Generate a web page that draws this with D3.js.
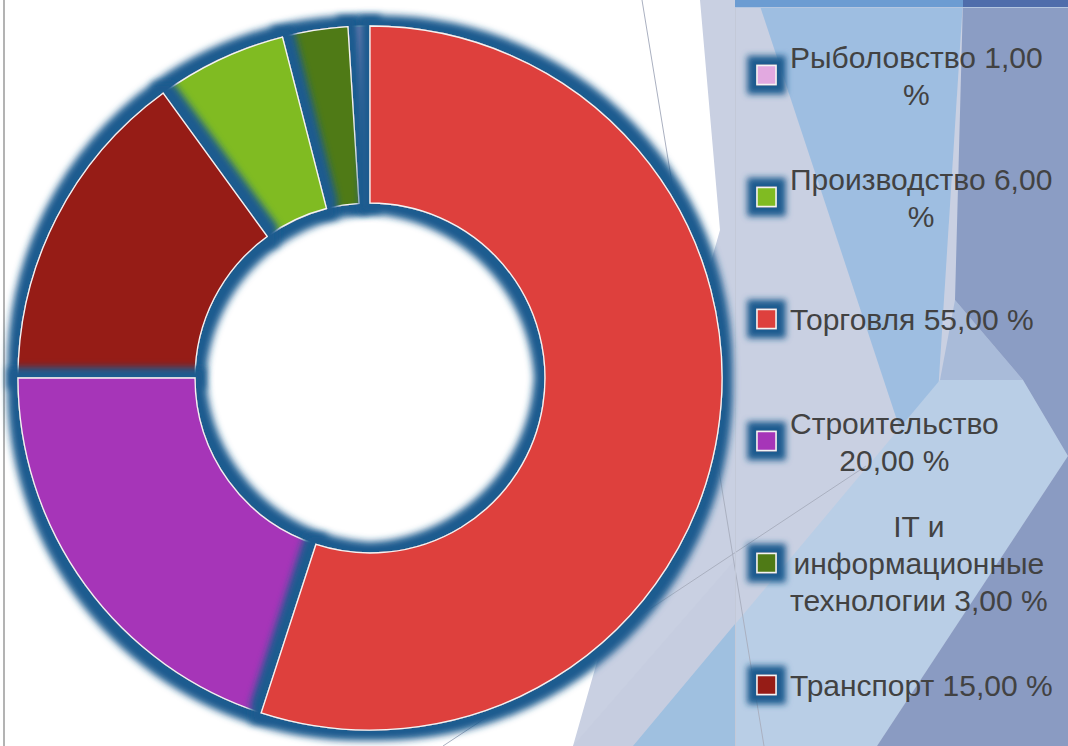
<!DOCTYPE html>
<html>
<head>
<meta charset="utf-8">
<script src="https://cdn.jsdelivr.net/npm/d3@7"></script>
<style>
  html, body { margin: 0; padding: 0; background: #fff; }
  svg { display: block; }
</style>
</head>
<body>
<svg id="chart" width="1068" height="746"></svg>
<script>
// data, legend order as in the reference
const categories = ["Рыболовство", "Производство", "Торговля", "Строительство", "IT и информационные технологии", "Транспорт"];
const shares = [1, 6, 55, 20, 3, 15];
const colors = ["#e2a9e0", "#80bb23", "#de3f3c", "#a634b8", "#4f7a15", "#961b19"];

const W = 1068, H = 746;
const svg = d3.select("#chart");
const defs = svg.append("defs");

// dark blue outer glow like the office "glow" effect
function glowFilter(id, units, region, r, sd) {
  const f = defs.append("filter").attr("id", id).attr("filterUnits", units)
    .attr("x", region[0]).attr("y", region[1]).attr("width", region[2]).attr("height", region[3]);
  f.append("feMorphology").attr("in", "SourceAlpha").attr("operator", "dilate").attr("radius", r).attr("result", "d");
  f.append("feGaussianBlur").attr("in", "d").attr("stdDeviation", sd).attr("result", "b");
  f.append("feFlood").attr("flood-color", "#1c5b8f").attr("result", "c");
  f.append("feComposite").attr("in", "c").attr("in2", "b").attr("operator", "in").attr("result", "g");
  const m = f.append("feMerge");
  m.append("feMergeNode").attr("in", "g");
  m.append("feMergeNode").attr("in", "SourceGraphic");
}
glowFilter("glowPie", "userSpaceOnUse", [-400, -400, 800, 800], 10, 3.8);
glowFilter("glowKey", "objectBoundingBox", ["-150%", "-150%", "400%", "400%"], 9, 3.4);

// ---- slide background (theme facets) ----
const bg = svg.append("g");
bg.append("rect").attr("width", W).attr("height", H).attr("fill", "#fff");
const facets = [
  { pts: [[700, 0], [1068, 0], [1068, 746], [573, 746], [720, 230]], fill: "#c9d0e2" },
  { pts: [[758, 0], [963, 0], [930, 520]], fill: "#9ebee1" },
  { pts: [[633, 746], [940, 380], [1023, 380], [1068, 456], [877, 746]], fill: "#b9cee6" },
  { pts: [[940, 380], [955, 300], [1023, 380]], fill: "#a9bbd9" },
  { pts: [[963, 0], [1068, 0], [1068, 456], [1023, 380], [955, 300]], fill: "#8b9dc4" },
  { pts: [[877, 746], [1068, 456], [1068, 746]], fill: "#8a9bc2" },
  { pts: [[573, 746], [633, 746], [735, 624], [735, 560]], fill: "#c6cde0" },
  { pts: [[633, 746], [735, 746], [735, 624]], fill: "#9fc0e0" }
];
bg.selectAll("polygon.facet").data(facets).join("polygon")
  .attr("class", "facet")
  .attr("points", d => d.pts.join(" "))
  .attr("fill", d => d.fill);
// top strip above the legend box
bg.append("rect").attr("x", 735).attr("y", 0).attr("width", 228).attr("height", 7).attr("fill", "#6c9cd2");
bg.append("rect").attr("x", 963).attr("y", 0).attr("width", 105).attr("height", 7).attr("fill", "#4f6dab");
// thin theme lines
bg.append("line").attr("x1", 642).attr("y1", 0).attr("x2", 764).attr("y2", 746)
  .attr("stroke", "#aab0c0").attr("stroke-width", 1);
bg.append("line").attr("x1", 443).attr("y1", 746).attr("x2", 866).attr("y2", 466)
  .attr("stroke", "#aab0c0").attr("stroke-width", 1);
// legend box edge and chart border
bg.append("line").attr("x1", 735.5).attr("y1", 7).attr("x2", 735.5).attr("y2", H)
  .attr("stroke", "#c3c9d8").attr("stroke-width", 1);
bg.append("line").attr("x1", 735).attr("y1", 7.5).attr("x2", W).attr("y2", 7.5)
  .attr("stroke", "#b4c6e0").attr("stroke-width", 1);
bg.append("line").attr("x1", 4).attr("y1", 0).attr("x2", 4).attr("y2", H)
  .attr("stroke", "#b3b3b3").attr("stroke-width", 2);

// ---- donut ----
const cx = 370, cy = 378, outerR = 352, innerR = 175;
const color = d3.scaleOrdinal().domain(categories).range(colors);
const pie = d3.pie().value(d => d.value).sort((a, b) => b.value - a.value);
const arc = d3.arc().innerRadius(innerR).outerRadius(outerR);
const rows = categories.map((c, i) => ({ name: c, value: shares[i] }));
const arcs = pie(rows).slice().sort((a, b) => a.value - b.value); // small slices drawn first

const donut = svg.append("g").attr("transform", `translate(${cx},${cy})`);
donut.selectAll("path").data(arcs).join("path")
  .attr("d", arc)
  .attr("fill", d => color(d.data.name))
  .attr("stroke", "#f4f4f4")
  .attr("stroke-width", 1.3)
  .attr("filter", "url(#glowPie)");

// ---- legend ----
const fmt = v => d3.format(".2f")(v).replace(".", ",") + " %";
const legendY = d3.scalePoint().domain(categories).range([75, 685]);
const keyX = 757, keySize = 19, textX = 790, wrapW = 275, lineH = 37;

const legend = svg.append("g")
  .attr("font-family", "'Liberation Sans', Arial, sans-serif")
  .attr("font-size", 30)
  .attr("fill", "#424242");

const measure = legend.append("text").attr("x", -1000).attr("y", -1000);
function wrap(str) {
  const words = str.split(" ");
  const lines = [];
  let cur = "";
  for (const w of words) {
    const test = cur ? cur + " " + w : w;
    measure.text(test);
    if (cur && measure.node().getComputedTextLength() > wrapW) {
      lines.push(cur);
      cur = w;
    } else cur = test;
  }
  if (cur) lines.push(cur);
  return lines.map(t => { measure.text(t); return { t, w: measure.node().getComputedTextLength() }; });
}

categories.forEach((c, i) => {
  const y = legendY(c);
  legend.append("rect")
    .attr("x", keyX).attr("y", y - keySize / 2)
    .attr("width", keySize).attr("height", keySize)
    .attr("fill", color(c))
    .attr("stroke", "#f4f4f4").attr("stroke-width", 1.5)
    .attr("filter", "url(#glowKey)");
  const lines = wrap(c + " " + fmt(shares[i]));
  const blockW = d3.max(lines, l => l.w);
  const top = y - (lines.length - 1) * lineH / 2;
  legend.append("text")
    .attr("text-anchor", "middle")
    .attr("dominant-baseline", "central")
    .selectAll("tspan").data(lines).join("tspan")
    .attr("x", textX + blockW / 2)
    .attr("y", (d, k) => top + k * lineH)
    .text(d => d.t);
});
measure.remove();
</script>
</body>
</html>
